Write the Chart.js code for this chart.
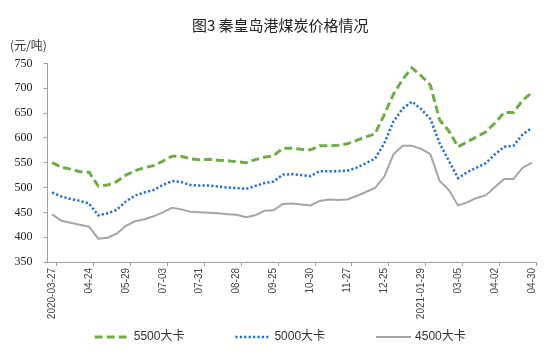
<!DOCTYPE html>
<html>
<head>
<meta charset="utf-8">
<script src="https://cdn.jsdelivr.net/npm/chart.js@4/dist/chart.umd.min.js"></script>
<style>
  html, body { margin: 0; padding: 0; background: #ffffff; }
  #wrap { width: 554px; height: 358px; position: relative; }
</style>
</head>
<body>
<div id="wrap"><canvas id="c" width="554" height="358"></canvas></div>
<script>
// Tick labels shown on the category axis (one every 4 data points)
const tickLabels = ['2020-03-27','04-24','05-29','07-03','07-31','08-28','09-25','10-30','11-27','12-25','2021-01-29','03-05','04-02','04-30'];
const pointsPerTick = 4;

// Series values (元/吨)
const seriesNames = ['5500大卡', '5000大卡', '4500大卡'];
const price5500 = [550,541,537,532,531,503,505,512,525,534,540,544,553,563,563,558,556,557,555,554,552,550,556,561,564,579,579,577,576,584,584,585,588,595,602,608,647,688,718,741,725,706,636,614,582,592,602,612,630,651,651,676,691];
const price5000 = [490,482,477,473,468,444,448,455,472,484,490,495,505,513,511,505,504,504,502,500,499,497,503,509,512,526,527,525,523,533,533,533,534,540,549,558,589,633,659,673,658,638,589,554,519,531,540,549,567,582,584,607,620];
const price4500 = [446,433,429,425,421,397,399,407,423,432,436,442,450,459,456,451,450,449,448,446,445,440,444,453,454,467,468,466,464,473,476,475,476,483,491,499,522,567,584,584,578,567,513,495,464,470,479,484,501,517,517,540,550];

// Category list built from the tick labels (unlabelled points in between)
const categories = price5500.map((v, i) => (i % pointsPerTick === 0 ? tickLabels[i / pointsPerTick] : ''));

const axisColor = '#a0a0a0';
const textColor = '#333333';

// Legend drawn below the axis, using each dataset's own line style
const lineLegend = {
  id: 'lineLegend',
  afterDraw(chart) {
    const ctx = chart.ctx;
    const sampleLen = 35, textGap = 4, itemGap = 51;
    ctx.save();
    ctx.font = '12px "Liberation Sans", "Noto Sans CJK SC", sans-serif';
    const items = chart.data.datasets.map(ds => ({ ds, w: ctx.measureText(ds.label).width }));
    const total = items.reduce((a, it) => a + sampleLen + textGap + it.w, 0) + itemGap * (items.length - 1);
    const cx = (chart.width + 10 - 3.5) / 2;
    let x = cx - total / 2;
    const y = 337;
    items.forEach(({ ds, w }) => {
      ctx.save();
      ctx.beginPath();
      ctx.strokeStyle = ds.borderColor;
      ctx.lineWidth = ds.borderWidth;
      ctx.setLineDash(ds.borderDash || []);
      ctx.moveTo(x, y);
      ctx.lineTo(x + sampleLen, y);
      ctx.stroke();
      ctx.restore();
      ctx.fillStyle = textColor;
      ctx.textBaseline = 'middle';
      ctx.textAlign = 'left';
      ctx.fillText(ds.label, x + sampleLen + textGap, y);
      x += sampleLen + textGap + w + itemGap;
    });
    ctx.restore();
  }
};

new Chart(document.getElementById('c'), {
  type: 'line',
  data: {
    labels: categories,
    datasets: [
      { label: seriesNames[0], data: price5500, borderColor: '#70AD47', backgroundColor: '#70AD47',
        borderWidth: 3, borderDash: [8, 4], pointRadius: 0, tension: 0, fill: false },
      { label: seriesNames[1], data: price5000, borderColor: '#1f6fd6', backgroundColor: '#1f6fd6',
        borderWidth: 2.5, borderDash: [2.2, 2.2], pointRadius: 0, tension: 0, fill: false },
      { label: seriesNames[2], data: price4500, borderColor: '#a5a5a5', backgroundColor: '#a5a5a5',
        borderWidth: 2, pointRadius: 0, tension: 0, fill: false }
    ]
  },
  plugins: [lineLegend],
  options: {
    responsive: false,
    animation: false,
    devicePixelRatio: 1,
    layout: { padding: { left: 10, right: 3.5, top: 0, bottom: 36 } },
    plugins: {
      title: {
        display: true,
        text: '图3 秦皇岛港煤炭价格情况',
        color: '#222222',
        font: { family: '"Noto Sans CJK SC", sans-serif', size: 15, weight: 'normal' },
        padding: { top: 16, bottom: 0 }
      },
      subtitle: {
        display: true,
        text: '(元/吨)',
        align: 'start',
        color: textColor,
        font: { family: '"Noto Sans CJK SC", sans-serif', size: 12, weight: 'normal' },
        padding: { top: 4, bottom: 11 }
      },
      legend: { display: false },
      tooltip: { enabled: false }
    },
    scales: {
      x: {
        type: 'category',
        offset: true,
        afterFit: (s) => { s.height = 60; },
        border: { display: true, color: axisColor, width: 1 },
        grid: {
          display: true,
          offset: true,
          drawOnChartArea: false,
          drawTicks: true,
          tickLength: 4,
          tickColor: (ctx) => (ctx.type !== 'tick' || ctx.index % pointsPerTick === 1) ? axisColor : 'rgba(0,0,0,0)'
        },
        ticks: {
          autoSkip: false,
          maxRotation: 90,
          minRotation: 90,
          padding: 2,
          color: '#444444',
          font: { family: '"Liberation Sans", sans-serif', size: 10 }
        }
      },
      y: {
        min: 350,
        max: 750,
        afterFit: (s) => { s.width = 37.5; },
        border: { display: true, color: axisColor, width: 1 },
        grid: { display: true, drawOnChartArea: false, tickLength: 4, tickColor: axisColor },
        ticks: {
          stepSize: 50,
          padding: 11,
          color: '#222222',
          font: { family: '"Liberation Serif", serif', size: 12 }
        }
      },
      yPad: {
        position: 'right',
        display: true,
        afterFit: (s) => { s.width = 14; },
        border: { display: false },
        grid: { display: false, drawTicks: false },
        ticks: { display: false }
      }
    }
  }
});
</script>
</body>
</html>
